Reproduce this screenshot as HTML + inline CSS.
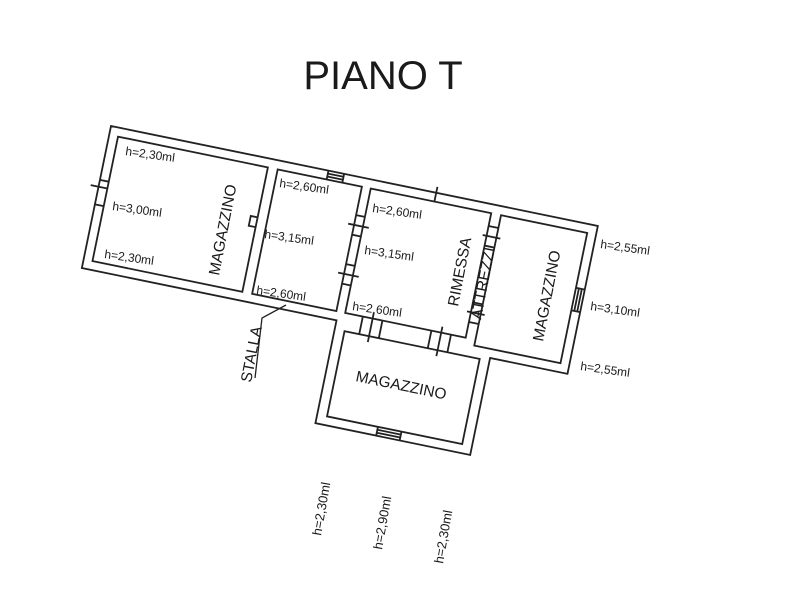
<!DOCTYPE html>
<html><head><meta charset="utf-8"><style>
html,body{margin:0;padding:0;background:#fff;}
svg{display:block;}
text{font-family:"Liberation Sans",sans-serif;fill:#1a1a1a;}
</style></head><body>
<svg width="800" height="600" viewBox="0 0 800 600" xmlns="http://www.w3.org/2000/svg">
<rect width="800" height="600" fill="#fff"/>
<text x="383" y="89" font-size="40" text-anchor="middle">PIANO T</text>
<g transform="translate(111,126) rotate(11.6)" fill="none" stroke="#222" stroke-width="1.8">
  <polygon points="0,0 497,0 497,151 418,151 418,250 260,250 260,145 0,145"/>
  <rect x="9" y="9" width="153" height="127"/>
  <rect x="172" y="9" width="86" height="127"/>
  <rect x="267" y="9" width="123" height="127"/>
  <rect x="400" y="9" width="88" height="133"/>
  <rect x="270" y="154" width="138" height="87"/>
  <line x1="-8" y1="62" x2="9" y2="62"/><line x1="0" y1="55" x2="9" y2="55"/><line x1="0" y1="80" x2="9" y2="80"/>
  <line x1="222" y1="0" x2="222" y2="9"/><line x1="238" y1="0" x2="238" y2="9"/>
  <line x1="222" y1="3" x2="238" y2="3"/><line x1="222" y1="6" x2="238" y2="6"/>
  <polyline points="162,60 155,60 155,70 162,70"/>
  <line x1="258" y1="38" x2="267" y2="38"/><line x1="252" y1="48" x2="273" y2="48"/><line x1="258" y1="58" x2="267" y2="58"/>
  <line x1="258" y1="88" x2="267" y2="88"/><line x1="252" y1="98" x2="273" y2="98"/><line x1="258" y1="108" x2="267" y2="108"/>
  <line x1="332" y1="-6" x2="332" y2="9"/>
  <line x1="390" y1="22" x2="400" y2="22"/><line x1="386" y1="32" x2="404" y2="32"/><line x1="390" y1="42" x2="400" y2="42"/>
  <line x1="390" y1="100" x2="400" y2="100"/><line x1="386" y1="110" x2="404" y2="110"/><line x1="390" y1="120" x2="400" y2="120"/>
  <line x1="488" y1="65" x2="497" y2="65"/><line x1="488" y1="88" x2="497" y2="88"/>
  <line x1="491" y1="65" x2="491" y2="88"/><line x1="494" y1="65" x2="494" y2="88"/>
  <line x1="285" y1="136" x2="285" y2="154"/><line x1="295" y1="130" x2="295" y2="160"/><line x1="305" y1="136" x2="305" y2="154"/>
  <line x1="355" y1="136" x2="355" y2="154"/><line x1="365" y1="130" x2="365" y2="160"/><line x1="375" y1="136" x2="375" y2="154"/>
  <line x1="322" y1="241" x2="322" y2="250"/><line x1="346" y1="241" x2="346" y2="250"/>
  <line x1="322" y1="244" x2="346" y2="244"/><line x1="322" y1="247" x2="346" y2="247"/>
</g>
<polyline points="255,378 262,318 286,305" fill="none" stroke="#222" stroke-width="1.3"/>
<g font-size="12">
  <text transform="translate(125,155) rotate(8)">h=2,30ml</text>
  <text transform="translate(112,210) rotate(8)">h=3,00ml</text>
  <text transform="translate(104,258) rotate(8)">h=2,30ml</text>
  <text transform="translate(279,187) rotate(8)">h=2,60ml</text>
  <text transform="translate(264,238) rotate(8)">h=3,15ml</text>
  <text transform="translate(256,294) rotate(8)">h=2,60ml</text>
  <text transform="translate(372,212) rotate(8)">h=2,60ml</text>
  <text transform="translate(364,254) rotate(8)">h=3,15ml</text>
  <text transform="translate(352,310) rotate(8)">h=2,60ml</text>
  <text transform="translate(600,248) rotate(8)">h=2,55ml</text>
  <text transform="translate(590,310) rotate(8)">h=3,10ml</text>
  <text transform="translate(580,370) rotate(8)">h=2,55ml</text>
</g>
<g font-size="13">
  <text transform="translate(321,536) rotate(-80)">h=2,30ml</text>
  <text transform="translate(382,550) rotate(-80)">h=2,90ml</text>
  <text transform="translate(443,564) rotate(-80)">h=2,30ml</text>
</g>
<g font-size="15.5">
  <text transform="translate(219,276) rotate(-79)">MAGAZZINO</text>
  <text transform="translate(458,307) rotate(-79)">RIMESSA</text>
  <text transform="translate(481,320) rotate(-79)">ATTREZZI</text>
  <text transform="translate(543,342) rotate(-79)">MAGAZZINO</text>
  <text transform="translate(355,381) rotate(11.6)">MAGAZZINO</text>
  <text transform="translate(251,383) rotate(-79)">STALLA</text>
</g>
</svg>
</body></html>
